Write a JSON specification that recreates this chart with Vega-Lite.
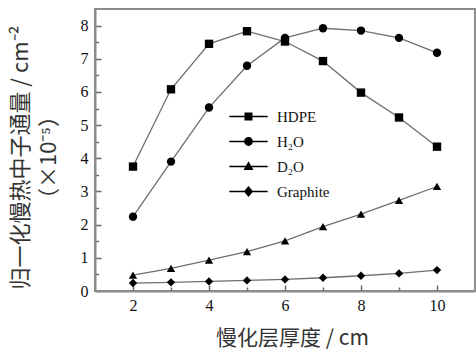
{
  "$schema": "https://vega.github.io/schema/vega-lite/v6.json",
  "width": 380,
  "height": 282,
  "autosize": {"type": "none"},
  "padding": {"left": 95, "top": 9, "right": 1, "bottom": 58},
  "background": "white",
  "config": {
    "view": {"stroke": "#8c8c8c", "strokeWidth": 2},
    "axis": {
      "domainColor": "#8c8c8c",
      "domainWidth": 2,
      "ticks": false,
      "grid": true,
      "gridColor": "#6a6a6a",
      "gridWidth": 1.5,
      "gridOpacity": 1,
      "labelFont": "Liberation Serif",
      "labelFontSize": 16,
      "labelColor": "#111",
      "titleFont": "Noto Sans CJK SC",
      "titleFontWeight": "normal",
      "titleFontSize": 22,
      "titleColor": "#333"
    }
  },
  "data": {
    "values": [
      {"t": 2, "m": "HDPE", "v": 3.75}, {"t": 3, "m": "HDPE", "v": 6.08}, {"t": 4, "m": "HDPE", "v": 7.45},
      {"t": 5, "m": "HDPE", "v": 7.83}, {"t": 6, "m": "HDPE", "v": 7.52}, {"t": 7, "m": "HDPE", "v": 6.93},
      {"t": 8, "m": "HDPE", "v": 5.98}, {"t": 9, "m": "HDPE", "v": 5.23}, {"t": 10, "m": "HDPE", "v": 4.35},
      {"t": 2, "m": "H₂O", "v": 2.24}, {"t": 3, "m": "H₂O", "v": 3.9}, {"t": 4, "m": "H₂O", "v": 5.53},
      {"t": 5, "m": "H₂O", "v": 6.79}, {"t": 6, "m": "H₂O", "v": 7.63}, {"t": 7, "m": "H₂O", "v": 7.92},
      {"t": 8, "m": "H₂O", "v": 7.85}, {"t": 9, "m": "H₂O", "v": 7.63}, {"t": 10, "m": "H₂O", "v": 7.18},
      {"t": 2, "m": "D₂O", "v": 0.48}, {"t": 3, "m": "D₂O", "v": 0.68}, {"t": 4, "m": "D₂O", "v": 0.93},
      {"t": 5, "m": "D₂O", "v": 1.19}, {"t": 6, "m": "D₂O", "v": 1.51}, {"t": 7, "m": "D₂O", "v": 1.94},
      {"t": 8, "m": "D₂O", "v": 2.32}, {"t": 9, "m": "D₂O", "v": 2.73}, {"t": 10, "m": "D₂O", "v": 3.15},
      {"t": 2, "m": "Graphite", "v": 0.24}, {"t": 3, "m": "Graphite", "v": 0.26}, {"t": 4, "m": "Graphite", "v": 0.29},
      {"t": 5, "m": "Graphite", "v": 0.32}, {"t": 6, "m": "Graphite", "v": 0.35}, {"t": 7, "m": "Graphite", "v": 0.4},
      {"t": 8, "m": "Graphite", "v": 0.46}, {"t": 9, "m": "Graphite", "v": 0.53}, {"t": 10, "m": "Graphite", "v": 0.63}
    ]
  },
  "encoding": {
    "x": {
      "field": "t",
      "type": "quantitative",
      "scale": {"domain": [1, 11], "nice": false, "zero": false},
      "axis": {
        "values": [2, 3, 4, 5, 6, 7, 8, 9, 10],
        "labelExpr": "datum.value % 2 === 0 ? format(datum.value, 'd') : ''",
        "gridDash": {"condition": {"test": "datum.value % 2 !== 0", "value": [4, 1000]}, "value": [6, 1000]},
        "gridDashOffset": {"condition": {"test": "datum.value % 2 !== 0", "value": 726}, "value": 730},
        "labelPadding": 6,
        "title": "慢化层厚度 / cm",
        "titleFontSize": 21,
        "titleX": 197,
        "titlePadding": 14
      }
    },
    "y": {
      "field": "v",
      "type": "quantitative",
      "scale": {"domain": [0, 8.5], "nice": false},
      "axis": {
        "values": [0, 0.5, 1, 1.5, 2, 2.5, 3, 3.5, 4, 4.5, 5, 5.5, 6, 6.5, 7, 7.5, 8],
        "labelExpr": "datum.value % 1 === 0 ? format(datum.value, 'd') : ''",
        "gridDash": {"condition": {"test": "datum.value % 1 !== 0", "value": [3.5, 1000]}, "value": [6, 1000]},
        "labelPadding": 7,
        "title": ["归一化慢热中子通量 / cm⁻²", "（×10⁻⁵）"],
        "titleLineHeight": 28,
        "titleBaseline": "bottom",
        "titleX": -63,
        "titleY": 148
      }
    }
  },
  "layer": [
    {
      "mark": {"type": "line", "color": "#6e6e6e", "strokeWidth": 1.3},
      "encoding": {"detail": {"field": "m"}}
    },
    {
      "mark": {"type": "point", "filled": true, "color": "#000", "opacity": 1, "size": 70},
      "encoding": {
        "shape": {
          "field": "m",
          "scale": {"domain": ["HDPE", "H₂O", "D₂O", "Graphite"], "range": ["square", "circle", "triangle-up", "diamond"]},
          "legend": null
        }
      }
    },
    {
      "mark": {"type": "point", "fill": "#000", "stroke": "#000", "strokeWidth": 0, "opacity": 0, "size": 64},
      "encoding": {
        "shape": {
          "field": "m",
          "title": null,
          "scale": {
            "domain": ["HDPE", "H₂O", "D₂O", "Graphite"],
            "range": [
              "M-4.8,-0.17H4.8V0.17H-4.8ZM-1,-1H1V1H-1Z",
              "M-4.8,-0.17H4.8V0.17H-4.8ZM-1.1,0A1.1,1.1 0 1,1 1.1,0A1.1,1.1 0 1,1 -1.1,0Z",
              "M-4.8,-0.17H4.8V0.17H-4.8ZM0,-1.3L1.25,0.9H-1.25Z",
              "M-4.8,-0.17H4.8V0.17H-4.8ZM0,-1.35L1.15,0L0,1.35L-1.15,0Z"
            ]
          },
          "legend": {
            "orient": "none",
            "legendX": 146,
            "legendY": 100,
            "padding": 0,
            "symbolOpacity": 1,
            "symbolFillColor": "#000",
            "symbolStrokeColor": "#000",
            "symbolStrokeWidth": 0,
            "symbolSize": 64,
            "labelOffset": 21,
            "labelFont": "Liberation Serif",
            "labelFontSize": 15,
            "labelColor": "#111",
            "rowPadding": 9
          }
        }
      }
    }
  ],
  "resolve": {
    "scale": {"shape": "independent"},
    "legend": {"shape": "independent"}
  }
}
